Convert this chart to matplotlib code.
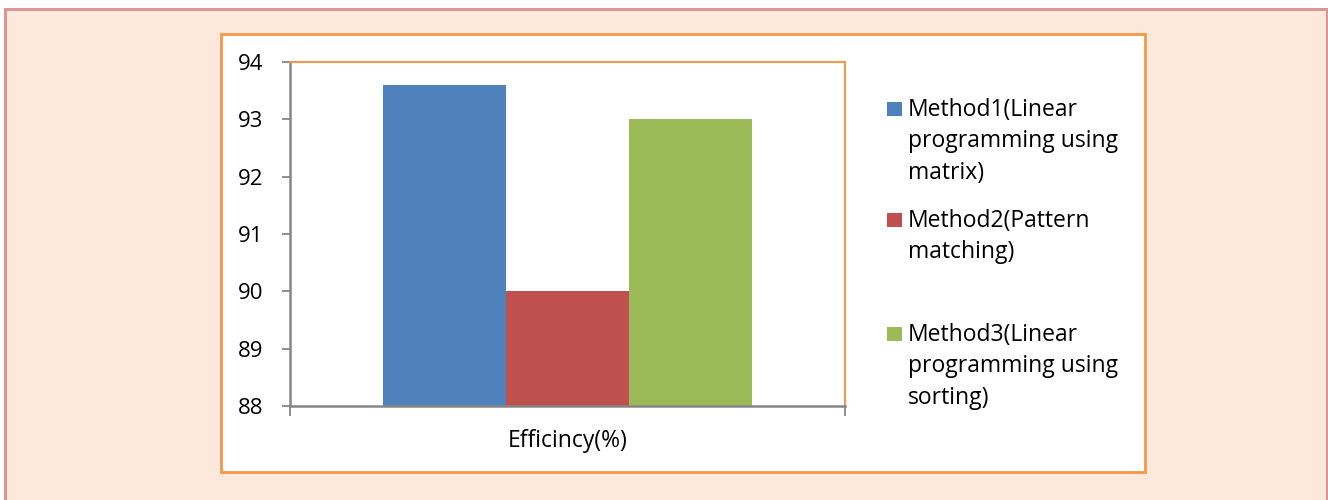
import matplotlib.pyplot as plt
from matplotlib.patches import Rectangle

# Datos de la grafica
methods = ["Method1(Linear\nprogramming using\nmatrix)",
           "Method2(Pattern\nmatching)",
           "Method3(Linear\nprogramming using\nsorting)"]
values = [93.6, 90.0, 93.0]
category = "Efficincy(%)"
yticks = [88, 89, 90, 91, 92, 93, 94]
colors = ["#4f81bd", "#c0504d", "#9bbb59"]

plt.rcParams['font.family'] = ['Open Sans', 'DejaVu Sans']

W, H = 1328, 500
fig = plt.figure(figsize=(W / 100, H / 100), dpi=100)
fig.patch.set_facecolor("white")

def fx(px):
    return px / W

def fy(py):
    return 1 - py / H

# Marco exterior rosado con fondo durazno
fig.patches.append(Rectangle((fx(4.5), fy(520)), fx(1326.5 - 4.5), (520 - 8.5) / H,
                             transform=fig.transFigure, facecolor="#fce9db",
                             edgecolor="#d99694", linewidth=2.2, zorder=0))
# Caja blanca del grafico con borde naranja
fig.patches.append(Rectangle((fx(221), fy(471.5)), fx(1144.5 - 221), (471.5 - 33.5) / H,
                             transform=fig.transFigure, facecolor="white",
                             edgecolor="#f79646", linewidth=2.0, zorder=1))

ax = fig.add_axes([fx(290), fy(406), fx(845 - 290), (406 - 62) / H])
ax.set_zorder(2)
ax.set_facecolor("white")

w = 0.2215
centers = [0.5 - w, 0.5, 0.5 + w]
for c, v, col in zip(centers, values, colors):
    ax.bar(c, v - yticks[0], bottom=yticks[0], width=w, color=col, linewidth=0)

ax.set_xlim(0, 1)
ax.set_ylim(yticks[0], yticks[-1])
ax.set_yticks(yticks)
ax.set_yticklabels([str(t) for t in yticks], fontsize=16)
ax.tick_params(axis="y", length=6, width=1.3, color="#868686", pad=13)

ax.set_xticks([0.5])
ax.set_xticklabels([category], fontsize=16.5)
ax.set_xticks([0, 1], minor=True)
ax.tick_params(axis="x", which="major", length=0, pad=16.5)
ax.tick_params(axis="x", which="minor", length=7, width=1.3, color="#868686")

for s in ["top", "right"]:
    ax.spines[s].set_color("#f79646")
    ax.spines[s].set_linewidth(1.5)
for s in ["left", "bottom"]:
    ax.spines[s].set_color("#868686")
    ax.spines[s].set_linewidth(1.8)

# Leyenda manual (espaciado irregular como en el original)
bases = [116, 227, 341]
for label, col, b in zip(methods, colors, bases):
    fig.patches.append(Rectangle((fx(887), fy(b)), fx(15), 14 / H,
                                 transform=fig.transFigure, facecolor=col,
                                 edgecolor="none", zorder=3))
    for j, line in enumerate(label.split("\n")):
        fig.text(fx(908), fy(b + j * 31.5), line, fontsize=16.5,
                 va="baseline", ha="left", zorder=3)

fig.savefig("out.png", dpi=100)
